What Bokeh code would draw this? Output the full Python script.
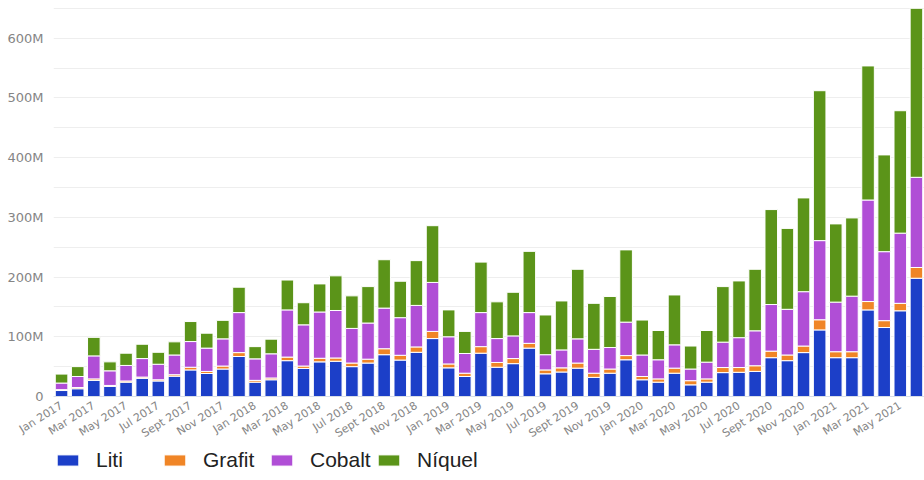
from bokeh.plotting import figure
from bokeh.layouts import column
from bokeh.models import (Range1d, FixedTicker, CustomJSTickFormatter,
                          Legend, LegendItem, ColumnDataSource)
from bokeh.embed import file_html
from bokeh.resources import INLINE

# Monthly values, in millions
months = []
for year in range(2017, 2022):
    for m in ["Jan", "Feb", "Mar", "Apr", "May", "Jun",
              "Jul", "Aug", "Sept", "Oct", "Nov", "Dec"]:
        months.append(f"{m} {year}")
months = months[:54]  # Jan 2017 .. Jun 2021

liti = [10, 13, 27, 17, 24, 30.5, 26, 34, 44.5, 38.5, 46, 67,
        24, 28, 60, 47, 58, 59, 50, 56, 70, 61, 74, 97,
        48, 33.5, 72.5, 49, 55, 81, 38, 41, 47.5, 32, 39, 61.5,
        28, 24, 39, 19.5, 24, 40, 40.5, 42, 65, 60, 73.5, 111.5,
        65, 65, 145, 115.5, 143.5, 198]
grafit = [1.5, 2, 2.5, 1.5, 2, 2, 2, 2.5, 4.5, 3.5, 5, 6.5,
          3, 3, 6, 4, 6, 5.5, 6, 6.5, 10, 8, 9, 12,
          6.5, 5.5, 11, 8, 8.5, 8, 6.5, 7, 8.5, 7, 7, 7,
          5.5, 5.5, 8.5, 7, 5.5, 8.5, 8, 9.5, 11, 9.5, 11, 17,
          10, 10, 14, 11.5, 12.5, 18]
cobalt = [11, 18.5, 38.5, 24.5, 26, 31, 26, 33, 43, 39, 45.5, 67,
          36, 40.5, 79, 69, 77.5, 79.5, 58, 60.5, 68, 63, 69.5, 82,
          45.5, 33, 57, 40, 38, 51.5, 25.5, 30, 40.5, 40, 36, 56,
          36, 32, 39, 19.5, 28, 42.5, 50, 58.5, 78, 76.5, 91, 132.5,
          83, 93, 170, 115.5, 117.5, 151]
niquel = [15, 16.5, 31, 15, 20.5, 24, 20, 22, 33.5, 25, 31, 42.5,
          20.5, 24.5, 50, 37, 47, 58, 54.5, 61, 81, 61, 75, 95,
          45, 37, 84.5, 61.5, 73, 102.5, 66.5, 82, 116.5, 77, 85.5, 121,
          58.5, 49, 83.5, 38.5, 53, 93, 95, 103, 159, 135.5, 157, 251,
          131, 131, 224.5, 162, 205, 283]

series = ["Liti", "Grafit", "Cobalt", "Níquel"]
colors = ["#1c3fc8", "#f08526", "#b04ed6", "#5b9419"]

# month position along the axis
pos = list(range(len(months)))

data = dict(pos=pos, Liti=liti, Grafit=grafit, Cobalt=cobalt)
data["Níquel"] = niquel
source = ColumnDataSource(data)

p = figure(x_range=Range1d(-0.5, len(months) - 0.5), y_range=Range1d(0, 653),
           width=924, height=448, output_backend="svg", toolbar_location=None,
           min_border_left=53, min_border_right=0, min_border_top=6,
           min_border_bottom=40)
p.outline_line_color = None
p.background_fill_color = "white"
p.border_fill_color = "white"

p.vbar_stack(series, x="pos", width=0.78, color=colors,
             line_color="white", line_width=1, source=source)

# y axis: labels every 100M, grid every 50M
p.yaxis.ticker = FixedTicker(ticks=list(range(0, 601, 100)),
                             minor_ticks=list(range(50, 651, 100)))
p.yaxis.formatter = CustomJSTickFormatter(code="return tick == 0 ? '0' : tick + 'M';")
p.yaxis.axis_line_color = None
p.yaxis.major_tick_line_color = None
p.yaxis.minor_tick_line_color = None
p.yaxis.major_label_standoff = 4
p.yaxis.major_label_text_font = "DejaVu Sans"
p.yaxis.major_label_text_font_size = "13px"
p.yaxis.major_label_text_color = "#858585"
p.ygrid.grid_line_color = "#eeeeee"
p.ygrid.minor_grid_line_color = "#eeeeee"
p.xgrid.grid_line_color = None

# x axis: every other month labelled
p.xaxis.ticker = FixedTicker(ticks=pos[::2], minor_ticks=[])
p.xaxis.formatter = CustomJSTickFormatter(args=dict(labels=months),
                                          code="return labels[Math.round(tick)];")
p.xaxis.major_label_orientation = 0.56
p.xaxis.major_tick_line_color = None
p.xaxis.minor_tick_line_color = None
p.xaxis.axis_line_color = "#d8dee8"
p.xaxis.major_label_standoff = 2
p.xaxis.major_label_text_font = "DejaVu Sans"
p.xaxis.major_label_text_font_size = "11px"
p.xaxis.major_label_text_color = "#858585"

# legend strip under the chart; its stacks are hidden and only feed the swatches
lf = figure(x_range=Range1d(0, 1), y_range=Range1d(0, 1), width=924, height=32,
            output_backend="svg", toolbar_location=None,
            min_border_left=0, min_border_right=0, min_border_top=0, min_border_bottom=0)
lf.axis.visible = False
lf.grid.visible = False
lf.outline_line_color = None
swatches = lf.vbar_stack(series, x="pos", width=0.78, color=colors,
                         line_color="white", line_width=1, source=source)
for r in swatches:
    r.visible = False

legend = Legend(items=[LegendItem(label=s, renderers=[r]) for s, r in zip(series, swatches)],
                location=(1, 8), orientation="horizontal",
                glyph_width=27, glyph_height=14, label_standoff=15, label_width=65,
                spacing=0, padding=0, margin=0,
                label_text_font="Liberation Sans", label_text_font_size="21px",
                label_text_color="#222222", inactive_fill_alpha=0,
                background_fill_alpha=0, border_line_alpha=0)
lf.add_layout(legend)

open("out.html", "w").write(file_html(column(p, lf, spacing=0), INLINE))
